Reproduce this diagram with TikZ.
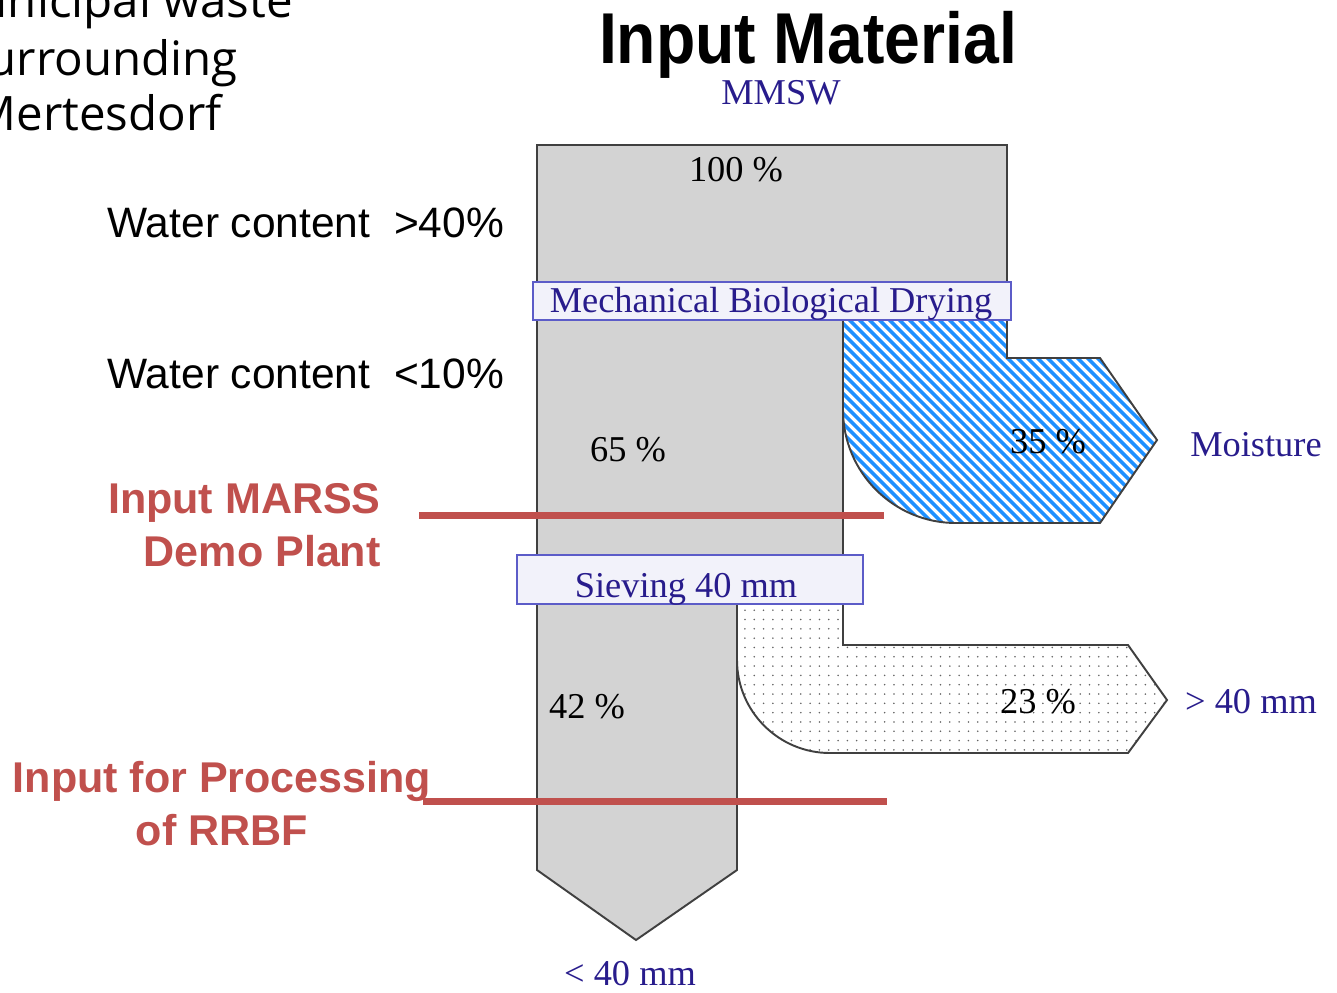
\documentclass[tikz,border=0pt]{standalone}
\usepackage{fontspec}
\setmainfont{Liberation Serif}
\newfontfamily\arialfont{Liberation Sans}
\newfontfamily\slidefont{Open Sans}
\usepackage{xcolor}
\usepackage{graphicx}
\usetikzlibrary{calc, positioning, patterns.meta, backgrounds}

\definecolor{flowgrey}{RGB}{211,211,211}
\definecolor{edgegrey}{RGB}{64,64,64}
\definecolor{barfill}{RGB}{242,242,250}
\definecolor{bardraw}{RGB}{92,92,200}
\definecolor{labelnavy}{RGB}{40,28,140}
\definecolor{moistblue}{RGB}{30,144,255}
\definecolor{marssred}{RGB}{192,80,77}
\definecolor{dotgrey}{RGB}{100,100,100}

\begin{document}
\begin{tikzpicture}[x=0.02cm,y=-0.02cm,
    flow/.style={fill=flowgrey,draw=edgegrey,line width=1.1pt},
    bar/.style={fill=barfill,draw=bardraw,line width=1.1pt},
    pct/.style={font=\fontsize{20.7}{24}\selectfont,inner sep=0pt,anchor=base},
    out label/.style={pct,text=labelnavy},
    side label/.style={font=\arialfont\fontsize{24.2}{29}\selectfont,inner sep=0pt,anchor=base west},
    red label/.style={font=\arialfont\bfseries\fontsize{24.5}{29.7}\selectfont,text=marssred,inner sep=0pt},
    slide label/.style={font=\slidefont\fontsize{27}{32}\selectfont,inner sep=0pt,anchor=base east},
    red line/.style={draw=marssred,line width=4pt}]

  \useasboundingbox (0,0) rectangle (1337,992);

  % flows
  \draw[flow] (537,145) rectangle (1007,282);
  \draw[flow] (537,320) rectangle (843,555);
  \draw[flow] (537,604) -- (737,604) -- (737,870) -- (636,940) -- (537,870) -- cycle;

  \draw[draw=edgegrey,line width=1.1pt,fill=white,
        pattern={Lines[angle=-45,distance=4pt,line width=2.1pt]},pattern color=moistblue]
    (843,320) -- (1007,320) -- (1007,358) -- (1100,358) -- (1157,440) -- (1100,523)
    -- (956,523) arc[start angle=90,end angle=180,radius=113] -- cycle;
  \draw[draw=edgegrey,line width=1.1pt,
        pattern={Dots[distance=5.3pt,radius=0.5pt]},pattern color=dotgrey]
    (737,604) -- (843,604) -- (843,645) -- (1128,645) -- (1167,700) -- (1128,753)
    -- (830,753) arc[start angle=90,end angle=180,radius=93] -- cycle;

  % stages
  \draw[bar] (533,282) rectangle (1011,320);
  \draw[bar] (517,555) rectangle (863,604);

  \node[pct] (in) at (736,181) {100 \%};
  \node[pct] (dry) at (628,461) {65 \%};
  \node[pct] (wet) at (1048,453) {35 \%};
  \node[pct] (fine) at (587,718) {42 \%};
  \node[pct] (coarse) at (1038,713) {23 \%};

  \node[out label] (mbd) at (771,312) {Mechanical Biological Drying};
  \node[out label] (sieve) at (686,597) {Sieving 40 mm};
  \node[out label] (mmsw) at (781,104) {MMSW};
  \node[out label] (moist) at (1256,456) {Moisture};
  \node[out label] (over) at (1251,713) {> 40 mm};
  \node[out label] (under) at (630,985) {< 40 mm};

  \node[font=\arialfont\bfseries\fontsize{36.6}{40}\selectfont,inner sep=0pt,anchor=base] (title) at (808,63)
    {\scalebox{1}[1.12]{Input Material}};

  \node[side label] (wc1) at (107,237) {Water content~~>40\%};
  \node[side label] (wc2) at (107,388) {Water content~~<10\%};

  \node[slide label] (src1) at (293,17) {unicipal waste};
  \node[slide label] (src2) at (238,75) {urrounding};
  \node[slide label] (src3) at (222,130) {Mertesdorf};

  \node[red label,align=right,anchor=base east] (marss) at (381,566) {Input MARSS\\Demo Plant};
  \node[red label,align=center,anchor=base] (rrbf) at (222,845) {Input for Processing\\of RRBF};

  \coordinate (marss end) at (884,515);
  \coordinate (rrbf end) at (887,801);
  \draw[red line] (marss.east |- marss end) ++(38,0) -- (marss end);
  \draw[red line] (rrbf.east |- rrbf end) ++(-9,0) -- (rrbf end);

\end{tikzpicture}
\end{document}
